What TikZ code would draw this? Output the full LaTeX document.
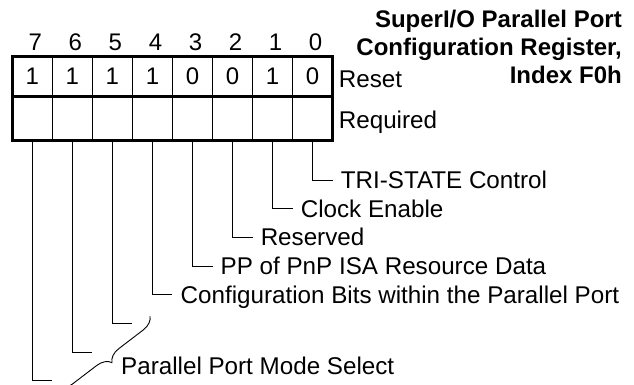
\documentclass[tikz,border=0pt]{standalone}
\usepackage{fontspec}
\setmainfont{Liberation Sans}
\usetikzlibrary{positioning,decorations.pathreplacing}

\tikzset{
  cell/.style={draw, line width=1.1pt, outer sep=0pt, inner sep=0pt, minimum width=40.05pt,
    text height=16.5pt, text depth=0pt, font=\fontsize{24}{28}\selectfont},
  valcell/.style={cell, minimum height=40.5pt},
  reqcell/.style={cell, minimum height=43pt},
  bitno/.style={inner sep=0pt, label distance=5.5pt, xshift=3pt, text height=16.5pt, text depth=0pt,
    font=\fontsize{24}{28}\selectfont},
  frame/.style={line width=3pt},
  lead/.style={line width=0.9pt},
  lbl/.style={anchor=west, inner xsep=8pt, inner ysep=0pt, text height=16.6pt, text depth=0pt,
    font=\fontsize{24.2}{28}\selectfont},
  title/.style={anchor=north east, align=right, inner sep=0pt, font=\bfseries\fontsize{24}{28}\selectfont},
  brc/.style={line width=0.9pt, decorate, decoration={brace, amplitude=14pt}}
}

\begin{document}
\begin{tikzpicture}[x=1pt, y=-1pt]
  \useasboundingbox (0,0) rectangle (634,385);

  % reset values
  \node[valcell, label={[bitno]above:7}] (v7) at (32.3,76.75) {1};
  \node[valcell, label={[bitno]above:6}] (v6) [right=0pt of v7] {1};
  \node[valcell, label={[bitno]above:5}] (v5) [right=0pt of v6] {1};
  \node[valcell, label={[bitno]above:4}] (v4) [right=0pt of v5] {1};
  \node[valcell, label={[bitno]above:3}] (v3) [right=0pt of v4] {0};
  \node[valcell, label={[bitno]above:2}] (v2) [right=0pt of v3] {0};
  \node[valcell, label={[bitno]above:1}] (v1) [right=0pt of v2] {1};
  \node[valcell, label={[bitno]above:0}] (v0) [right=0pt of v1] {0};

  % required values
  \node[reqcell] (q7) [below=0pt of v7] {};
  \node[reqcell] (q6) [below=0pt of v6] {};
  \node[reqcell] (q5) [below=0pt of v5] {};
  \node[reqcell] (q4) [below=0pt of v4] {};
  \node[reqcell] (q3) [below=0pt of v3] {};
  \node[reqcell] (q2) [below=0pt of v2] {};
  \node[reqcell] (q1) [below=0pt of v1] {};
  \node[reqcell] (q0) [below=0pt of v0] {};

  \draw[frame] (v7.north west) rectangle (q0.south east);
  \draw[frame] (v7.south west) -- (v0.south east);

  \node[lbl, inner xsep=6pt, yshift=-2pt] (reset) [right=0pt of v0] {Reset};
  \node[lbl, inner xsep=6pt, yshift=-1.5pt] (req) [right=0pt of q0] {Required};

  \node[title] (ttl) at (622,10) {SuperI/O Parallel Port\\Configuration Register,\\Index F0h};

  % bit fields
  \node[lbl] (tri) at ([shift={(20,40)}]q0.south) {TRI-STATE Control};
  \node[lbl] (clk) at ([shift={(20,68.7)}]q1.south) {Clock Enable};
  \node[lbl] (rsv) at ([shift={(20,97.4)}]q2.south) {Reserved};
  \node[lbl] (pnp) at ([shift={(20,126.1)}]q3.south) {PP of PnP ISA Resource Data};
  \node[lbl] (cfg) at ([shift={(20,154.8)}]q4.south) {Configuration Bits within the Parallel Port};
  \coordinate (e5) at ([shift={(20,183.5)}]q5.south);
  \coordinate (e6) at ([shift={(20,212.2)}]q6.south);
  \coordinate (e7) at ([shift={(20,240.9)}]q7.south);

  \draw[lead] (q0.south) |- (tri.west);
  \draw[lead] (q1.south) |- (clk.west);
  \draw[lead] (q2.south) |- (rsv.west);
  \draw[lead] (q3.south) |- (pnp.west);
  \draw[lead] (q4.south) |- (cfg.west);
  \draw[lead] (q5.south) |- (e5);
  \draw[lead] (q6.south) |- (e6);
  \draw[lead] (q7.south) |- (e7);

  % mode select brace
  \coordinate (bt) at (150,316);
  \coordinate (bb) at (57,387);
  \draw[brc] (bt) -- (bb);
  \node[lbl] (mode) at (113,366.4) {Parallel Port Mode Select};
\end{tikzpicture}
\end{document}
